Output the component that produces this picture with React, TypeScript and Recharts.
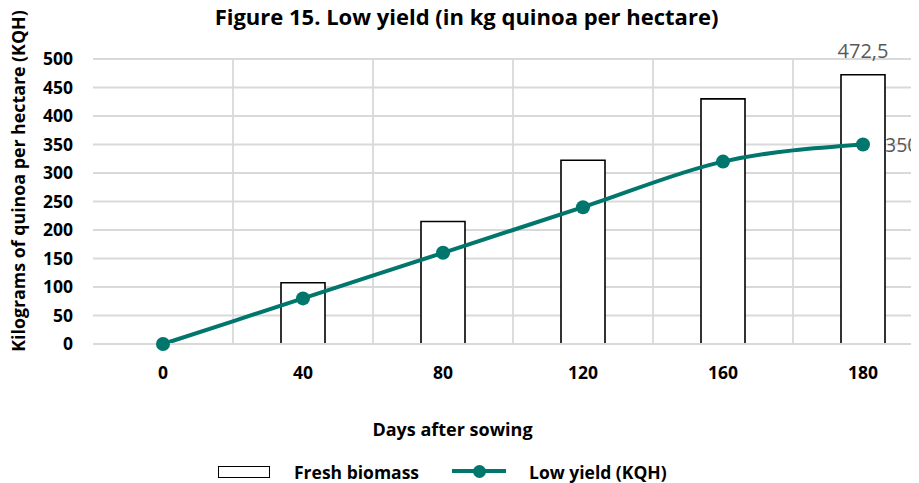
import React from 'react';
import {Bar, CartesianGrid, ComposedChart, LabelList, Line, XAxis, YAxis} from "recharts";

const days = ["0", "40", "80", "120", "160", "180"];
const freshBiomass = [0, 107.5, 215, 322.5, 430, 472.5];
const lowYield = [0, 80, 160, 240, 320, 350];
const biomassLabels = ["", "", "", "", "", "472,5"];
const yieldLabels = ["", "", "", "", "", "350"];
const yTicks = [0, 50, 100, 150, 200, 250, 300, 350, 400, 450, 500];

const TEAL = "#00766c";
const FONT = "'Open Sans', sans-serif";

const data = days.map((d, i) => ({
    day: d,
    biomass: freshBiomass[i],
    yield: lowYield[i],
    biomassLabel: biomassLabels[i],
    yieldLabel: yieldLabels[i],
}));

function YieldLabel(props: any) {
    const {x, y, value} = props;
    if (!value) return null;
    return (
        <text x={x + 22} y={y + 7} textAnchor="start" fill="#595959" fontSize={19.5} fontFamily={FONT}>
            {value}
        </text>
    );
}

const bold = {fontWeight: 700, color: "#000", lineHeight: 1, whiteSpace: "nowrap" as const};

function App(): React.ReactElement {
    return (
        <div style={{
            position: "relative", width: 919, height: 483, margin: "-8px 0 0 -8px",
            overflow: "hidden", fontFamily: FONT
        }}>
            <div style={{...bold, position: "absolute", left: 0, width: 933, top: 4.5, textAlign: "center", fontSize: 22}}>
                Figure 15. Low yield (in kg quinoa per hectare)
            </div>
            <div style={{position: "absolute", left: 19, top: 181, width: 0, height: 0}}>
                <div style={{
                    ...bold, position: "absolute", transform: "translate(-50%, -50%) rotate(-90deg)",
                    fontSize: 17.8
                }}>
                    Kilograms of quinoa per hectare (KQH)
                </div>
            </div>
            <div style={{position: "absolute", left: 0, top: 0}}>
                <ComposedChart width={968} height={400} data={data}
                               margin={{top: 59, right: 35, left: 0, bottom: 26}}>
                    <CartesianGrid stroke="#d9d9d9" strokeWidth={1.8}
                                   verticalCoordinatesGenerator={({offset}: any) =>
                                       days.map((_, i) => offset.left + (i + 1) * offset.width / days.length)}/>
                    <XAxis dataKey="day" tickLine={false} axisLine={{stroke: "#d9d9d9", strokeWidth: 1.8}}
                           tickMargin={17} height={30}
                           tick={{fontSize: 17.5, fontWeight: 700, fill: "#000", fontFamily: FONT}}/>
                    <YAxis domain={[0, 500]} ticks={yTicks} interval={0} width={93}
                           axisLine={false} tickLine={false} tickMargin={14}
                           tick={{fontSize: 17.5, fontWeight: 700, fill: "#000", fontFamily: FONT}}/>
                    <Bar dataKey="biomass" barSize={44} fill="#fff" stroke="#000" strokeWidth={1.6}
                         isAnimationActive={false}>
                        <LabelList dataKey="biomassLabel" position="top" offset={17}
                                   fill="#595959" fontSize={20} fontFamily={FONT}/>
                    </Bar>
                    <Line dataKey="yield" type="monotone" stroke={TEAL} strokeWidth={4}
                          dot={{r: 7, fill: TEAL, stroke: TEAL, strokeWidth: 0}} activeDot={false}
                          isAnimationActive={false}>
                        <LabelList dataKey="yieldLabel" content={<YieldLabel/>}/>
                    </Line>
                </ComposedChart>
            </div>
            <div style={{...bold, position: "absolute", left: 0, width: 905, top: 420, textAlign: "center", fontSize: 18}}>
                Days after sowing
            </div>
            <div style={{
                position: "absolute", left: 218, top: 466, width: 52, height: 12,
                border: "1.5px solid #000", boxSizing: "border-box"
            }}/>
            <div style={{...bold, position: "absolute", left: 294, top: 463.5, fontSize: 17.5}}>
                Fresh biomass
            </div>
            <div style={{position: "absolute", left: 452, top: 469, width: 54, height: 4, background: TEAL}}/>
            <div style={{
                position: "absolute", left: 472.5, top: 464.5, width: 13, height: 13,
                borderRadius: 7, background: TEAL
            }}/>
            <div style={{...bold, position: "absolute", left: 529, top: 463.5, fontSize: 17.5}}>
                Low yield (KQH)
            </div>
        </div>
    );
}

export default App;
